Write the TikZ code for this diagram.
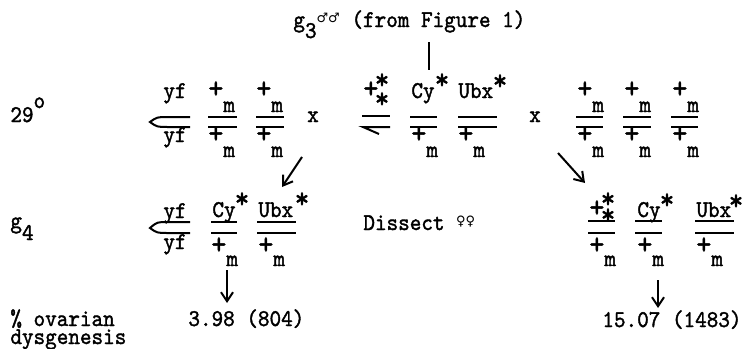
\documentclass[tikz,border=0pt]{standalone}
\usepackage{fontspec}
\usetikzlibrary{arrows.meta}
\newfontfamily\symfont{DejaVu Sans}
\newfontfamily\twfont[FakeBold=1.5,FakeStretch=0.92]{lmmono10-regular.otf}
\newcommand{\plusm}[1][7pt]{\scalebox{1.3}{+}\raisebox{-#1}{m}}
\newcommand{\bigplus}{\scalebox{1.3}{+}}
\begin{document}
\begin{tikzpicture}[x=0.5pt,y=-0.5pt,
  txt/.style={anchor=base west,inner sep=0pt,font=\twfont\fontsize{12}{14}\selectfont},
  ast/.style={anchor=base,inner sep=0pt,font=\twfont\fontsize{15}{16}\selectfont},
  chr/.style={line width=1pt},
  arr/.style={->,line width=1pt},
  >={Straight Barb[length=4.5pt,width=6pt]}]
\useasboundingbox (0,0) rectangle (743,348);
\node[txt] (title) at (293,27) {g\raisebox{-5.5pt}{3}\raisebox{2.5pt}{\symfont\fontsize{6.5}{7}\selectfont ♂♂} (from Figure 1)};
\coordinate (tk1) at (429,42);
\coordinate (tk2) at (429,70);
\draw[chr] (tk1) -- (tk2);
\node[txt] (deg) at (10,122) {29\raisebox{7pt}{o}};
\node[txt] (fyf) at (163,98) {yf};
\node[txt] (fyfb) at (163,142) {yf};
\draw[chr] (190,117) -- (168,117) .. controls (157,117) .. (150,122) .. controls (157,127) .. (168,127) -- (190,127);
\node[txt] (fa) at (208,98) {\plusm};
\node[txt] (fab) at (208,143) {\plusm};
\draw[chr] (208,117) -- (237,117) (208,127) -- (237,127);
\node[txt] (fb) at (256,98) {\plusm};
\node[txt] (fbb) at (256,143) {\plusm};
\draw[chr] (256,117) -- (284,117) (256,127) -- (284,127);
\node[txt,anchor=base] (x1) at (313,122) {x};
\node[txt] (mx) at (363,98) {\bigplus};
\node[ast] (mxs1) at (382,108) {*};
\node[ast] (mxs2) at (382,89) {*};
\draw[chr] (362,116) -- (390,116);
\draw[chr] (390,127) -- (363,127) -- (379,134);
\node[txt] (mcy) at (411,98) {Cy};
\node[ast] (mcys) at (442,89) {*};
\node[txt] (mcyb) at (411,143) {\plusm};
\draw[chr] (410,117) -- (437,117) (410,127) -- (437,127);
\node[txt] (mubx) at (458,98) {Ubx};
\node[ast] (mubxs) at (500,90) {*};
\node[txt] (mubxb) at (458,143) {\plusm};
\draw[chr] (458,117) -- (497,117) (458,127) -- (497,127);
\node[txt,anchor=base] (x2) at (535,122) {x};
\node[txt] (ra) at (577,98) {\plusm};
\node[txt] (rab) at (577,143) {\plusm};
\draw[chr] (576,117) -- (603,117) (576,127) -- (603,127);
\node[txt] (rb) at (624,98) {\plusm};
\node[txt] (rbb) at (624,143) {\plusm};
\draw[chr] (623,117) -- (651,117) (623,127) -- (651,127);
\node[txt] (rc) at (672,98) {\plusm};
\node[txt] (rcb) at (672,143) {\plusm};
\draw[chr] (671,117) -- (698,117) (671,127) -- (698,127);
\coordinate (l1) at (302,157);
\coordinate (l2) at (282,187);
\draw[arr] (l1) -- (l2);
\coordinate (r1) at (558,153);
\coordinate (r2) at (585,183);
\draw[arr] (r1) -- (r2);
\node[txt] (gen) at (10,228) {g\raisebox{-6pt}{4}};
\node[txt] (gyf) at (163,218) {yf};
\node[txt] (gyfb) at (163,249) {yf};
\draw[chr] (190,222) -- (168,222) .. controls (157,222) .. (150,228) .. controls (157,233) .. (168,233) -- (190,233);
\node[txt] (gcy) at (212,217) {Cy};
\node[ast] (gcys) at (242,208) {*};
\node[txt] (gcyb) at (211,254) {\plusm[6pt]};
\draw[chr] (211,222) -- (237,222) (211,233) -- (237,233);
\node[txt] (gubx) at (258,217) {Ubx};
\node[ast] (gubxs) at (302,208) {*};
\node[txt] (gubxb) at (258,254) {\plusm[6pt]};
\draw[chr] (257,222) -- (296,222) (257,233) -- (296,233);
\node[txt] (dis) at (363,230) {Dissect \raisebox{2.5pt}{\symfont\fontsize{6.5}{7}\selectfont ♀♀}};
\node[txt] (hx) at (589,217) {\bigplus};
\node[ast] (hxs1) at (608,224) {*};
\node[ast] (hxs2) at (608,208) {*};
\node[txt] (hxb) at (589,254) {\plusm[6pt]};
\draw[chr] (588,221) -- (615,221) (588,233) -- (615,233);
\node[txt] (hcy) at (637,217) {Cy};
\node[ast] (hcys) at (667,209) {*};
\node[txt] (hcyb) at (637,254) {\plusm[6pt]};
\draw[chr] (635,221) -- (662,221) (635,233) -- (662,233);
\node[txt] (hubx) at (696,217) {Ubx};
\node[ast] (hubxs) at (736,210) {*};
\node[txt] (hubxb) at (696,254) {\plusm[6pt]};
\draw[chr] (695,221) -- (734,221) (695,233) -- (734,233);
\node[txt] (pct) at (10,326) {\% ovarian};
\node[txt] (dys) at (10,344) {dysgenesis};
\coordinate (d1) at (227,270);
\coordinate (d2) at (227,303);
\draw[arr] (d1) -- (d2);
\node[txt] (res1) at (188,326) {3.98 (804)};
\coordinate (e1) at (658,280);
\coordinate (e2) at (658,308);
\draw[arr] (e1) -- (e2);
\node[txt] (res2) at (602,327) {15.07 (1483)};
\end{tikzpicture}
\end{document}
